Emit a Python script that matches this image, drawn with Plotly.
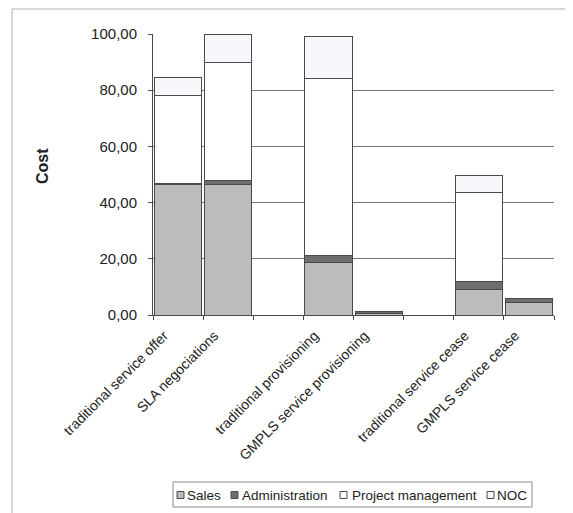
import plotly.graph_objects as go

categories = ["traditional service offer", "SLA negociations", " ",
              "traditional provisioning", "GMPLS service provisioning", "  ",
              "traditional service cease", "GMPLS service cease"]
sales = [46.5, 46.3, 0, 18.6, 0.4, 0, 9.1, 4.4]
administration = [0.3, 1.7, 0, 2.6, 0.8, 0, 2.8, 1.5]
project_management = [31.2, 41.8, 0, 63.0, 0, 0, 31.6, 0]
noc = [6.5, 10.2, 0, 14.8, 0, 0, 6.0, 0]
series_names = ["Sales", "Administration", "Project management", "NOC"]
y_tickvals = [0, 20, 40, 60, 80, 100]
y_ticktext = ["0,00", "20,00", "40,00", "60,00", "80,00", "100,00"]

colors = ["#bcbcbc", "#6e6e6e", "#ffffff", "#f7f8fb"]
series_values = [sales, administration, project_management, noc]

# the page body has an 8px margin; layout is measured in page pixels
OFF = 8
W, H = 573 - OFF, 513 - OFF
PLOT_L, PLOT_R, PLOT_T, PLOT_B = 153, 554, 34, 315  # page px
ML = PLOT_L - OFF
MT = PLOT_T - OFF
MR = W - (PLOT_R - OFF)
MB = H - (PLOT_B - OFF)
PW, PH = PLOT_R - PLOT_L, PLOT_B - PLOT_T


def px_x(x):
    return (x - PLOT_L) / PW


def px_y(y):
    return (PLOT_B - y) / PH


fig = go.Figure()
for name, vals, col in zip(series_names, series_values, colors):
    fig.add_trace(go.Bar(
        x=categories, y=vals, name=name, showlegend=False,
        marker=dict(color=col, line=dict(color="#4a4a4a", width=1)),
    ))

font_family = "Liberation Sans, Arial, sans-serif"

shapes = [dict(
    type="rect", xref="paper", yref="paper",
    x0=px_x(12), x1=px_x(567), y0=px_y(540), y1=px_y(9),
    line=dict(color="#b0b0b0", width=1), fillcolor="rgba(0,0,0,0)",
    layer="below",
)]
# legend box
shapes.append(dict(
    type="rect", xref="paper", yref="paper",
    x0=px_x(173), x1=px_x(532), y0=px_y(507), y1=px_y(482),
    line=dict(color="#8a8a8a", width=1), fillcolor="white",
))
annotations = [dict(
    text="<b>Cost</b>", xref="paper", yref="paper",
    x=px_x(42), y=px_y(166), textangle=-90, showarrow=False,
    font=dict(size=16, family=font_family), xanchor="center", yanchor="middle",
)]
sym_x = [177, 231, 340, 487]
txt_x = [185, 240, 350, 495]
for name, col, sx, tx in zip(series_names, colors, sym_x, txt_x):
    shapes.append(dict(
        type="rect", xref="paper", yref="paper",
        x0=px_x(sx), x1=px_x(sx + 7), y0=px_y(498.5), y1=px_y(491.5),
        line=dict(color="#4a4a4a", width=1), fillcolor=col,
    ))
    annotations.append(dict(
        text=name, xref="paper", yref="paper", x=px_x(tx), y=px_y(495),
        xanchor="left", yanchor="middle", showarrow=False,
        font=dict(size=13.5, family=font_family),
    ))

fig.update_layout(
    barmode="stack",
    bargap=0.06,
    width=W, height=H,
    margin=dict(l=ML, r=MR, t=MT, b=MB, autoexpand=False),
    paper_bgcolor="white",
    plot_bgcolor="white",
    font=dict(family=font_family, size=14, color="#222222"),
    showlegend=False,
    xaxis=dict(
        type="category",
        categoryorder="array", categoryarray=categories,
        tickangle=-45,
        ticks="outside", ticklen=4, tickcolor="#4a4a4a",
        tickson="boundaries",
        showline=True, linecolor="#4a4a4a", linewidth=1,
        showgrid=False, automargin=False,
        ticklabelstandoff=6, ticklabelshift=-14,
        tickfont=dict(size=14),
    ),
    yaxis=dict(
        range=[0, 100],
        tickvals=y_tickvals, ticktext=y_ticktext,
        ticks="outside", ticklen=4, tickcolor="#4a4a4a",
        showline=True, linecolor="#4a4a4a", linewidth=1,
        showgrid=True, gridcolor="#7a7a7a", gridwidth=1,
        zeroline=False, automargin=False,
        ticklabelstandoff=8,
        tickfont=dict(size=15),
    ),
    annotations=annotations,
    shapes=shapes,
)

fig.write_html("out.html")
